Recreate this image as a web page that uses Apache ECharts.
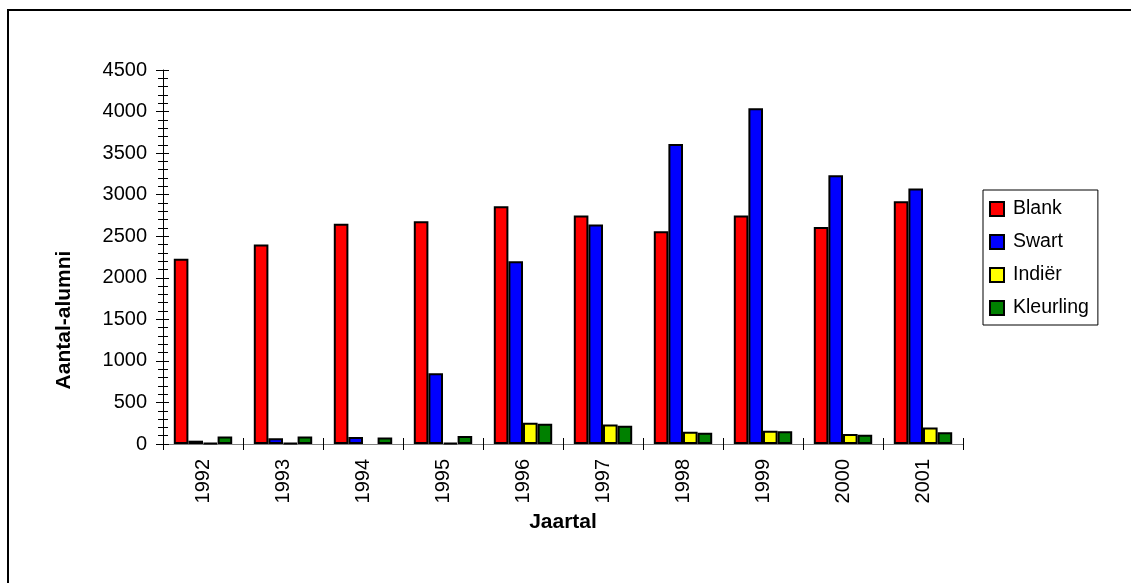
<!DOCTYPE html>
<html>
<head>
<meta charset="utf-8">
<script src="https://cdn.jsdelivr.net/npm/echarts@6/dist/echarts.min.js"></script>
<style>
  html, body { margin: 0; padding: 0; background: #ffffff; }
  #chart { width: 1131px; height: 583px; }
</style>
</head>
<body>
<div id="chart"></div>
<script>
// Graduates per year by population group (null = no graduates recorded)
const years = ['1992', '1993', '1994', '1995', '1996', '1997', '1998', '1999', '2000', '2001'];
const blank = [2230, 2400, 2650, 2680, 2860, 2750, 2560, 2750, 2610, 2920];
const swart = [40, 70, 85, 850, 2200, 2640, 3610, 4040, 3235, 3075];
const indier = [10, 10, null, 15, 255, 235, 148, 160, 120, 200];
const kleurling = [90, 90, 78, 95, 245, 220, 136, 152, 112, 140];

const seriesNames = ['Blank', 'Swart', 'Indiër', 'Kleurling'];
const seriesColors = ['#ff0000', '#0000ff', '#ffff00', '#008000'];
const seriesData = [blank, swart, indier, kleurling];

const FONT = "'Liberation Sans', Arial, sans-serif";

const chart = echarts.init(document.getElementById('chart'), null, { renderer: 'canvas' });

const yBase = { type: 'value', min: 0, max: 4500, interval: 500, position: 'left' };

const option = {
  backgroundColor: '#ffffff',
  animation: false,
  textStyle: { fontFamily: FONT },
  graphic: [{
    type: 'rect',
    shape: { x: 8, y: 10, width: 1400, height: 800 },
    style: { fill: 'none', stroke: '#000000', lineWidth: 2 },
    silent: true
  }],
  grid: { left: 163, right: 168, top: 70, bottom: 139, containLabel: false },
  legend: {
    orient: 'vertical',
    left: 983,
    top: 190,
    padding: [9, 9, 7, 6],
    itemWidth: 14,
    itemHeight: 14,
    itemGap: 13,
    borderColor: '#000000',
    borderWidth: 1,
    icon: 'rect',
    textStyle: { fontFamily: FONT, fontSize: 19.5, lineHeight: 20, color: '#000000', padding: [0, 0, 0, 4] },
    data: seriesNames
  },
  xAxis: [{
    type: 'category',
    data: years,
    boundaryGap: true,
    position: 'bottom',
    name: 'Jaartal',
    nameLocation: 'middle',
    nameGap: 68,
    nameTextStyle: { fontFamily: FONT, fontSize: 21, fontWeight: 'bold', color: '#000000' },
    axisLine: { lineStyle: { color: '#808080', width: 1 } },
    axisTick: { show: true, length: 6, lineStyle: { color: '#000000' } },
    axisLabel: { rotate: 90, margin: 15, fontFamily: FONT, fontSize: 20, color: '#000000' },
    splitLine: { show: false }
  }, {
    type: 'category',
    data: years,
    boundaryGap: true,
    position: 'bottom',
    axisLine: { show: false },
    axisTick: { show: true, inside: true, length: 6, lineStyle: { color: '#000000' } },
    axisLabel: { show: false },
    splitLine: { show: false }
  }],
  yAxis: [Object.assign({}, yBase, {
    name: 'Aantal-alumni',
    nameLocation: 'middle',
    nameRotate: 90,
    nameGap: 88,
    nameTextStyle: {
      fontFamily: FONT, fontSize: 21, fontWeight: 'bold', color: '#000000',
      padding: [0, 126, 0, 0]
    },
    axisLine: { show: true, lineStyle: { color: '#000000', width: 1 } },
    axisTick: { show: true, length: 7, lineStyle: { color: '#000000' } },
    minorTick: { show: true, splitNumber: 5, length: 5, lineStyle: { color: '#000000' } },
    axisLabel: { margin: 16, fontFamily: FONT, fontSize: 20, color: '#000000', formatter: v => String(v) },
    splitLine: { show: false }
  }), Object.assign({}, yBase, {
    axisLine: { show: false },
    axisTick: { show: true, inside: true, length: 6, lineStyle: { color: '#000000' } },
    minorTick: { show: true, splitNumber: 5, length: 5, lineStyle: { color: '#000000' } },
    axisLabel: { show: false },
    splitLine: { show: false }
  })],
  series: seriesNames.map((name, i) => ({
    name: name,
    type: 'bar',
    xAxisIndex: 0,
    yAxisIndex: 0,
    data: seriesData[i],
    barGap: '0%',
    barCategoryGap: '27%',
    itemStyle: { color: seriesColors[i], borderColor: '#000000', borderWidth: 2 }
  }))
};

chart.setOption(option);
</script>
</body>
</html>
